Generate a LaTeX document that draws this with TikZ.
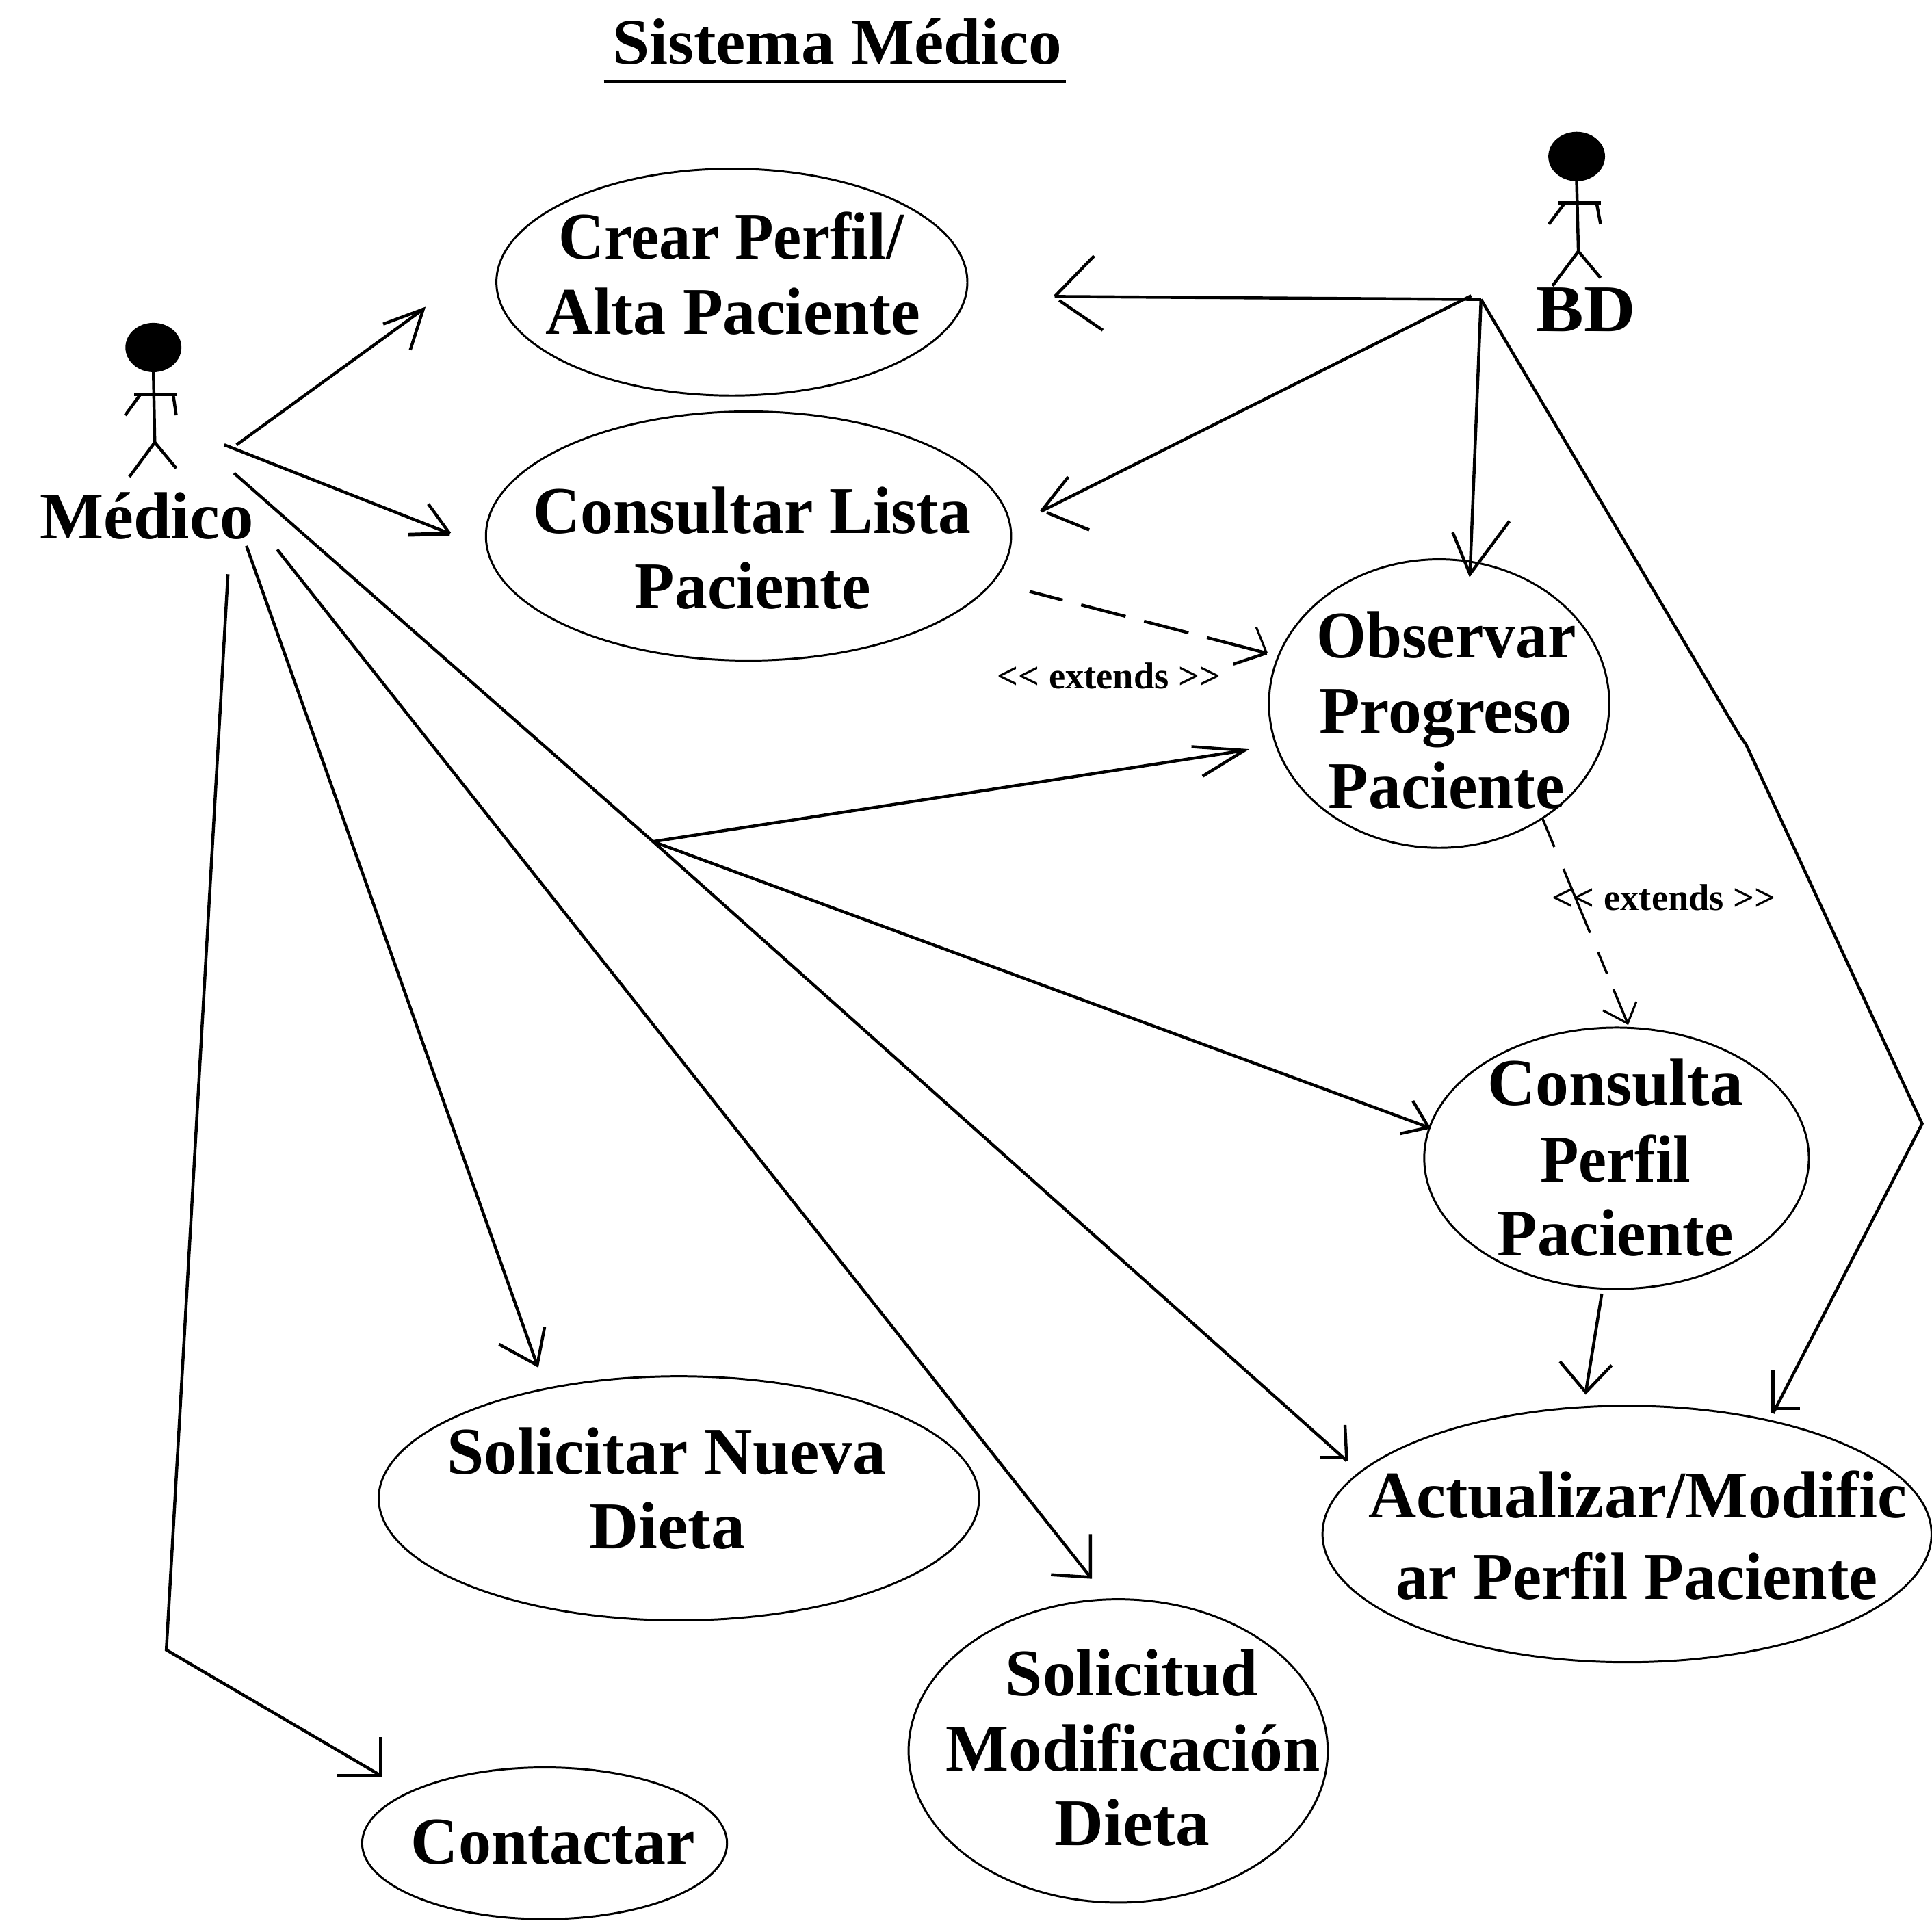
\documentclass[tikz,border=0pt]{standalone}
\usepackage{graphicx}
\usepackage{fontspec}
\setmainfont{Liberation Serif}
\usetikzlibrary{shapes.geometric}
\newcommand{\hsq}[2]{\scalebox{#1}[1]{#2}}
\tikzset{
  conn/.style={line width=0.7pt,line cap=butt,line join=miter},
  barb/.style={line width=0.7pt},
  thinb/.style={line width=0.5pt},
  uc/.style={draw,ellipse,line width=0.47pt,inner sep=0,outer sep=0,fill=none},
  big/.style={anchor=base,inner sep=0,outer sep=0,font=\fontsize{15.4pt}{17pt}\selectfont\bfseries},
  ttl/.style={anchor=base,inner sep=0,outer sep=0,font=\fontsize{15pt}{17pt}\selectfont\bfseries},
  small/.style={anchor=base,inner sep=0,outer sep=0,font=\fontsize{8.6pt}{10pt}\selectfont\bfseries},
  head/.style={draw=none,fill=black,ellipse,inner sep=0,outer sep=0},
  limb/.style={line width=0.7pt},
}
\begin{document}
\begin{tikzpicture}[x=0.01cm,y=-0.01cm]
\useasboundingbox (0,0) rectangle (1568,1568);
% title
\node[ttl] (title) at (679.5,52) {\hsq{1.025}{Sistema Médico}};
\coordinate (ula) at (490,66); \coordinate (ulb) at (865,66);
\draw[line width=0.6pt] (ula) -- (ulb);
% use cases
\node[uc,minimum width=3.82cm,minimum height=1.84cm] (crear) at (594,229) {};
\node[uc,minimum width=4.26cm,minimum height=2.02cm] (lista) at (607.5,435) {};
\node[uc,minimum width=2.76cm,minimum height=2.34cm] (obs) at (1168,571) {};
\node[uc,minimum width=3.12cm,minimum height=2.12cm] (perfil) at (1312,940) {};
\node[uc,minimum width=4.94cm,minimum height=2.08cm] (act) at (1320.5,1245) {};
\node[uc,minimum width=4.87cm,minimum height=1.98cm] (nueva) at (551,1216) {};
\node[uc,minimum width=3.40cm,minimum height=2.46cm] (modif) at (907.5,1421) {};
\node[uc,minimum width=2.96cm,minimum height=1.23cm] (cont) at (442,1496) {};
% labels
\node[big] (t1a) at (593.5,210) {\hsq{.949}{Crear Perfil/}};
\node[big] (t1b) at (595,271) {\hsq{.987}{Alta Paciente}};
\node[big] (t2a) at (610.5,433) {\hsq{.98}{Consultar Lista}};
\node[big] (t2b) at (611,494) {\hsq{.98}{Paciente}};
\node[big] (t3a) at (1174,534) {\hsq{.959}{Observar}};
\node[big] (t3b) at (1173.5,595) {Progreso};
\node[big] (t3c) at (1174,656) {\hsq{.98}{Paciente}};
\node[big] (t4a) at (1311,897) {Consulta};
\node[big] (t4b) at (1311,959) {\hsq{.946}{Perfil}};
\node[big] (t4c) at (1311,1019) {\hsq{.98}{Paciente}};
\node[big] (t5a) at (1329,1232) {\hsq{.995}{Actualizar/Modific}};
\node[big] (t5b) at (1328.5,1298) {\hsq{.97}{ar Perfil Paciente}};
\node[big] (t6a) at (541,1196) {Solicitar Nueva};
\node[big] (t6b) at (541.5,1257) {\hsq{1.025}{Dieta}};
\node[big] (t7a) at (918.5,1376) {Solicitud};
\node[big] (t7b) at (919.5,1437) {Modificación};
\node[big] (t7c) at (919,1498) {\hsq{1.02}{Dieta}};
\node[big] (t8) at (449,1513) {\hsq{.983}{Contactar}};
\node[big] (medico) at (119,437) {\hsq{1.012}{Médico}};
\node[big] (bd) at (1287,269) {\hsq{1.07}{BD}};
\node[small] (ext1) at (900,559) {<{}< extends >{}>};
\node[small] (ext2) at (1350.5,739) {<{}< extends >{}>};
% actor Medico
\node[head,minimum width=0.454cm,minimum height=0.40cm] (hm) at (124.5,282) {};
\coordinate (mh) at (125.6,359);
\draw[limb] (hm.south) -- (mh);
\draw[limb] (109,320.5) -- (143,320.5);
\draw[limb] (114,320) -- (101.6,337);
\draw[limb] (140.5,320) -- (143,337);
\draw[limb] (105,387) -- (mh) -- (143,380);
% actor BD
\node[head,minimum width=0.46cm,minimum height=0.40cm] (hb) at (1279.6,127) {};
\coordinate (bh) at (1281,204);
\draw[limb] (hb.south) -- (bh);
\draw[limb] (1264.5,164.5) -- (1299,164.5);
\draw[limb] (1269,166) -- (1257,182);
\draw[limb] (1296,166) -- (1299,182);
\draw[limb] (1260,232) -- (bh) -- (1299,225.5);
% Medico connectors
\coordinate (m1) at (192,361); \coordinate (c1) at (343.5,251);
\draw[conn] (m1) -- (c1);
\draw[barb] (311,263) -- (c1) -- (333,284);
\coordinate (m2) at (182,361); \coordinate (c2) at (365,433);
\draw[conn] (m2) -- (c2);
\draw[barb] (347.6,409) -- (c2);
\draw[barb,line width=0.9pt] (c2) -- (331,434);
\coordinate (m3) at (190,384); \coordinate (jn) at (530,683); \coordinate (c3) at (1093,1185.5);
\draw[conn] (m3) -- (jn) -- (c3);
\draw[barb] (1091.6,1156.5) -- (c3);
\coordinate (c3s) at (1090,1183);
\draw[barb,line width=0.9pt] (c3s) -- (1071.6,1183);
\coordinate (c3a) at (1010,609);
\draw[conn] (jn) -- (c3a);
\draw[barb] (967,606) -- (c3a) -- (976,630);
\coordinate (c3b) at (1159.5,915);
\draw[conn] (jn) -- (c3b);
\draw[barb] (1146.7,893.5) -- (c3b) -- (1136.4,920);
\coordinate (m4) at (225,446); \coordinate (c4) at (885,1280);
\draw[conn] (m4) -- (c4);
\draw[barb] (885,1245) -- (c4) -- (853,1278);
\coordinate (m5) at (200,443); \coordinate (c5) at (436,1108);
\draw[conn] (m5) -- (c5);
\draw[barb] (442,1077) -- (c5) -- (405,1091);
\coordinate (m6) at (185,466); \coordinate (k6) at (135,1339); \coordinate (c6) at (309,1441);
\draw[conn] (m6) -- (k6) -- (c6);
\draw[barb] (309,1410) -- (c6) -- (273,1441);
% BD connectors
\coordinate (b1) at (1202,243); \coordinate (b2) at (1194,240);
\coordinate (d1) at (856,240.6); \coordinate (d1s) at (859.6,243.8);
\draw[conn] (b1) -- (d1);
\draw[barb] (888,207.7) -- (d1);
\draw[barb] (d1s) -- (895,268);
\coordinate (d2) at (845,415); \coordinate (d2s) at (849.5,416);
\draw[conn] (b2) -- (d2);
\draw[barb] (867,387) -- (d2);
\draw[barb] (d2s) -- (884,430);
\coordinate (d3) at (1193,466);
\draw[conn] (b1) -- (d3);
\draw[barb] (1179,432) -- (d3) -- (1225,423);
\coordinate (k1) at (1412,597); \coordinate (k2) at (1417,604); \coordinate (k3) at (1560,912); \coordinate (d4) at (1439,1147);
\draw[conn] (b1) -- (k1) -- (k2) -- (k3) -- (d4);
\draw[barb] (1439,1112) -- (d4);
\coordinate (d4s) at (1441,1143);
\draw[barb,line width=0.9pt] (d4s) -- (1461,1143);
% include
\coordinate (p1) at (1300,1050); \coordinate (a1) at (1287,1130);
\draw[conn] (p1) -- (a1);
\draw[barb] (1266,1105) -- (a1) -- (1308,1108);
% extends
\coordinate (e1) at (835.6,480); \coordinate (e1t) at (1028,530);
\draw[conn,dash pattern=on 7.9pt off 4.4pt on 10.6pt off 4.4pt on 10.6pt off 4.4pt on 14.4pt off 0pt] (e1) -- (e1t);
\draw[thinb] (1019.6,509) -- (e1t);
\draw[conn] (e1t) -- (1001,539);
\coordinate (e2) at (1252,664.6); \coordinate (e2t) at (1321,830.6);
\draw[conn,line width=0.55pt,dash pattern=on 7pt off 5.5pt on 16pt off 4.75pt on 5.5pt off 3.85pt on 8.7pt off 0pt] (e2) -- (e2t);
\draw[thinb] (1301,820) -- (e2t) -- (1328,813);
\end{tikzpicture}
\end{document}
